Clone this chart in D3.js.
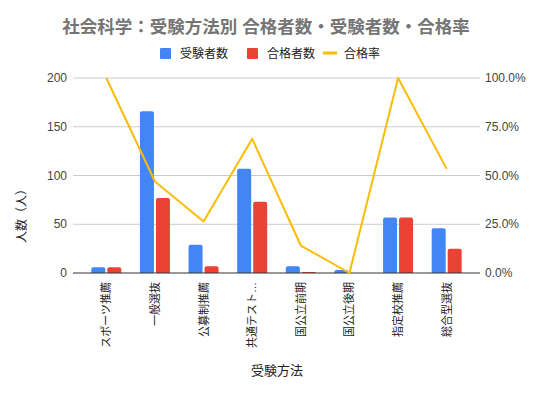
<!DOCTYPE html>
<html>
<head>
<meta charset="utf-8">
<script src="https://cdn.jsdelivr.net/npm/d3@7"></script>
<style>
  body { margin: 0; background: #fff; }
  text { font-family: "Liberation Sans", "Noto Sans CJK JP", sans-serif; }
</style>
</head>
<body>
<div id="chart"></div>
<script>
const categories = ["スポーツ推薦", "一般選抜", "公募制推薦", "共通テスト…", "国公立前期", "国公立後期", "指定校推薦", "総合型選抜"];
const examinees = [6, 166, 29, 107, 7, 3, 57, 46];
const passers = [6, 77, 7, 73, 1, 0, 57, 25];
const passRate = [1.0, 0.469, 0.264, 0.688, 0.141, 0.0, 1.0, 0.534];
const leftTicks = [0, 50, 100, 150, 200];
const rightTicks = [0, 0.25, 0.5, 0.75, 1.0];

const seriesNames = ["受験者数", "合格者数", "合格率"];
const colors = ["#4285F4", "#EA4335", "#FBBC04"];

const W = 543, H = 394;
const plot = { left: 73, right: 480, top: 78, bottom: 273 };

const svg = d3.select("#chart").append("svg")
  .attr("width", W).attr("height", H);

// title
svg.append("text")
  .attr("x", 266).attr("y", 33)
  .attr("text-anchor", "middle")
  .style("font-size", "17.5px").style("font-weight", "bold")
  .attr("fill", "#757575")
  .text("社会科学：受験方法別 合格者数・受験者数・合格率");

// legend
const legendX = [160, 247, 323];
seriesNames.forEach((name, i) => {
  const g = svg.append("g").attr("transform", `translate(${legendX[i]},53)`);
  if (i < 2) {
    g.append("rect").attr("x", 0).attr("y", -5).attr("width", 11).attr("height", 11)
      .attr("rx", 1).attr("fill", colors[i]);
  } else {
    g.append("rect").attr("x", 0).attr("y", -1.5).attr("width", 14).attr("height", 3)
      .attr("fill", colors[i]);
  }
  g.append("text").attr("x", i < 2 ? 20 : 21).attr("y", 4.5)
    .style("font-size", "12px").attr("fill", "#222").text(name);
});

const x = d3.scaleBand().domain(categories).range([82, 471]);
const yL = d3.scaleLinear().domain([0, 200]).range([plot.bottom, plot.top]);
const yR = d3.scaleLinear().domain([0, 1]).range([plot.bottom, plot.top]);

// gridlines
svg.append("g").selectAll("line").data(leftTicks.slice(1)).join("line")
  .attr("x1", plot.left).attr("x2", plot.right)
  .attr("y1", d => yL(d)).attr("y2", d => yL(d))
  .attr("stroke", "#cccccc").attr("stroke-width", 1);

// left axis labels
svg.append("g").selectAll("text").data(leftTicks).join("text")
  .attr("x", 67).attr("y", d => yL(d) + 4)
  .attr("text-anchor", "end")
  .style("font-size", "12px").attr("fill", "#444")
  .text(d => d);

// right axis labels
svg.append("g").selectAll("text").data(rightTicks).join("text")
  .attr("x", 485).attr("y", d => yR(d) + 4)
  .style("font-size", "12px").attr("fill", "#444")
  .text(d => d3.format(".1%")(d));

// bars
const barW = 14, gap = 2;
const data = categories.map((c, i) => ({ cat: c, vals: [examinees[i], passers[i]] }));
const groups = svg.append("g").selectAll("g").data(data).join("g");
groups.selectAll("path").data(d => d.vals.map((v, j) => ({ cat: d.cat, v, j }))).join("path")
  .attr("d", d => {
    const cx = x(d.cat) + x.bandwidth() / 2;
    const x0 = d.j === 0 ? cx - gap / 2 - barW : cx + gap / 2;
    const y0 = yL(d.v), y1 = yL(0);
    const h = y1 - y0;
    if (h <= 0) return "";
    const r = Math.min(2, h);
    return `M${x0},${y1}V${y0 + r}Q${x0},${y0} ${x0 + r},${y0}H${x0 + barW - r}Q${x0 + barW},${y0} ${x0 + barW},${y0 + r}V${y1}Z`;
  })
  .attr("fill", d => colors[d.j]);

// baseline
svg.append("line")
  .attr("x1", plot.left).attr("x2", plot.right)
  .attr("y1", plot.bottom).attr("y2", plot.bottom)
  .attr("stroke", "#333").attr("stroke-width", 1);

// line series
const line = d3.line()
  .x((d, i) => x(categories[i]) + x.bandwidth() / 2)
  .y(d => yR(d));
svg.append("path").datum(passRate)
  .attr("d", line)
  .attr("fill", "none").attr("stroke", colors[2]).attr("stroke-width", 2)
  .attr("stroke-linejoin", "round");

// x labels
svg.append("g").selectAll("text").data(categories).join("text")
  .attr("transform", d => `translate(${x(d) + x.bandwidth() / 2 + 4},282) rotate(-90)`)
  .attr("text-anchor", "end")
  .style("font-size", "11px").attr("fill", "#222")
  .text(d => d);

// axis titles
svg.append("text")
  .attr("x", 277).attr("y", 375).attr("text-anchor", "middle")
  .style("font-size", "13px").attr("fill", "#222").text("受験方法");

svg.append("text")
  .attr("transform", "translate(26,213) rotate(-90)")
  .attr("text-anchor", "middle")
  .style("font-size", "12px").attr("fill", "#222").text("人数（人）");
</script>
</body>
</html>
